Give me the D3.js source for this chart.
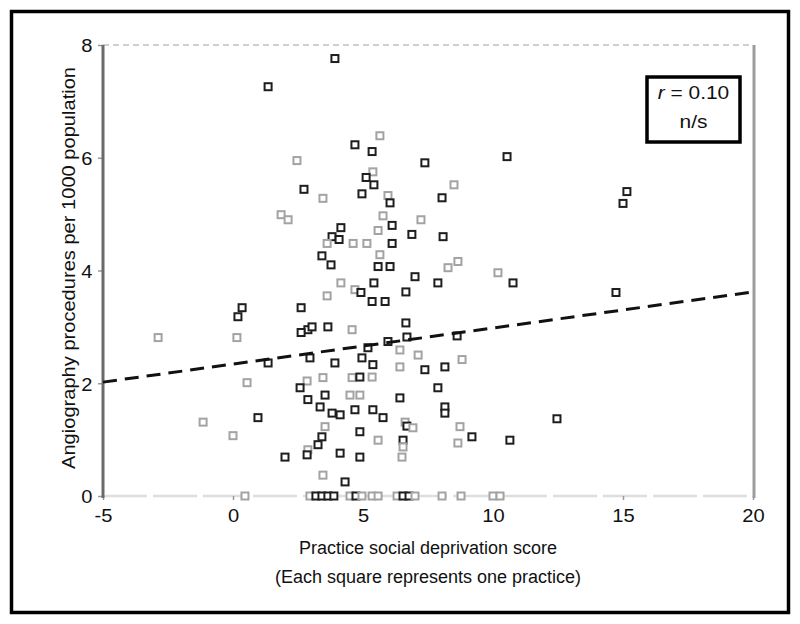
<!DOCTYPE html>
<html>
<head>
<meta charset="utf-8">
<script src="https://cdn.jsdelivr.net/npm/d3@7"></script>
<style>
body { margin: 0; background: #fff; }
text { font-family: "Liberation Sans", Arial, Helvetica, sans-serif; fill: #111; }
</style>
</head>
<body>
<svg id="chart" width="800" height="624"></svg>
<script>
// one entry per practice
var deprivationScore = [
	3.92, 1.35, 5.65, 4.69, 5.35, 2.46, 7.38, 10.54, 5.38, 5.12,
	5.42, 8.50, 2.73, 3.46, 4.96, 5.96, 6.04, 8.04, 15.15, 15.00,
	1.85, 2.12, 5.77, 6.12, 7.23, 4.15, 5.58, 6.88, 8.08, 3.81,
	4.08, 3.62, 4.62, 5.15, 6.12, 3.42, 3.77, 5.65, 5.58, 6.04,
	8.27, 8.65, 10.19, 10.77, 7.00, 4.15, 5.42, 7.88, 4.69, 4.92,
	6.65, 3.62, 5.35, 5.85, 2.62, 14.73, 0.35, 0.19, 6.65, 3.65,
	4.58, 2.88, 3.04, 2.62, 6.69, 8.62, -2.88, 0.15, 1.35, 2.96,
	3.92, 4.96, 5.19, 5.96, 6.42, 7.12, 8.81, 5.38, 5.35, 6.42,
	7.38, 8.15, 3.46, 4.58, 4.88, 2.85, 0.54, 2.58, 3.54, 4.50,
	4.88, 6.42, 7.88, 2.88, 3.35, 3.81, 4.12, 4.69, 5.38, 5.77,
	8.15, 8.15, 0.96, -1.15, 3.54, 4.88, 6.62, 6.69, 6.92, 8.73,
	3.42, 3.27, 2.88, 2.85, 2.00, 4.12, 4.88, 5.58, 6.54, 6.54,
	6.50, 8.65, 9.19, 10.65, 0.00, 12.46, 3.46, 4.31,
	0.46, 2.96, 3.19, 3.42, 3.65, 3.88, 4.50, 4.73, 4.96, 5.35,
	5.58, 6.31, 6.54, 6.77, 7.00, 8.04, 8.77, 10.00, 10.27
];
var angiographyRate = [
	7.76, 7.26, 6.39, 6.23, 6.11, 5.95, 5.91, 6.02, 5.75, 5.65,
	5.52, 5.52, 5.44, 5.28, 5.36, 5.33, 5.20, 5.29, 5.40, 5.19,
	4.99, 4.90, 4.97, 4.80, 4.90, 4.76, 4.71, 4.64, 4.60, 4.60,
	4.55, 4.48, 4.48, 4.48, 4.48, 4.26, 4.10, 4.28, 4.07, 4.07,
	4.05, 4.16, 3.96, 3.78, 3.89, 3.78, 3.78, 3.78, 3.66, 3.61,
	3.62, 3.55, 3.45, 3.45, 3.34, 3.61, 3.34, 3.18, 3.07, 3.00,
	2.95, 2.95, 3.00, 2.90, 2.82, 2.84, 2.81, 2.81, 2.36, 2.45,
	2.36, 2.45, 2.63, 2.74, 2.59, 2.50, 2.42, 2.33, 2.11, 2.29,
	2.24, 2.29, 2.10, 2.10, 2.11, 2.04, 2.01, 1.92, 1.79, 1.79,
	1.79, 1.74, 1.92, 1.71, 1.58, 1.47, 1.44, 1.53, 1.53, 1.39,
	1.58, 1.47, 1.39, 1.31, 1.23, 1.14, 1.31, 1.24, 1.21, 1.23,
	1.05, 0.91, 0.82, 0.73, 0.69, 0.76, 0.69, 0.99, 0.99, 0.87,
	0.69, 0.94, 1.05, 0.99, 1.07, 1.37, 0.37, 0.25,
	0, 0, 0, 0, 0, 0, 0, 0, 0, 0,
	0, 0, 0, 0, 0, 0, 0, 0, 0
];
// 1 = square printed faintly in the original
var faintPrint = [
	0, 0, 1, 0, 0, 1, 0, 0, 1, 0,
	0, 1, 0, 1, 0, 1, 0, 0, 0, 0,
	1, 1, 1, 0, 1, 0, 1, 0, 0, 0,
	0, 1, 1, 1, 0, 0, 0, 1, 0, 0,
	1, 1, 1, 0, 0, 1, 0, 0, 1, 0,
	0, 1, 0, 0, 0, 0, 0, 0, 0, 0,
	1, 0, 0, 0, 0, 0, 1, 1, 0, 0,
	0, 0, 0, 0, 1, 1, 1, 0, 1, 1,
	0, 0, 1, 1, 0, 1, 1, 0, 0, 1,
	1, 0, 0, 0, 0, 0, 0, 0, 0, 0,
	0, 0, 0, 1, 1, 0, 1, 0, 1, 1,
	0, 0, 1, 0, 0, 0, 0, 1, 0, 1,
	1, 1, 0, 0, 1, 0, 1, 0,
	1, 1, 0, 0, 0, 0, 1, 0, 1, 1,
	1, 1, 0, 0, 1, 1, 1, 1, 1
];
var fitScore = [-5, 20];
var fitRate = [2.02, 3.62];
var xTicks = [-5, 0, 5, 10, 15, 20];
var yTicks = [0, 2, 4, 6, 8];

var svg = d3.select("#chart");
var plotLeft = 103, plotRight = 753, plotTop = 45, plotBottom = 496;

var x = d3.scaleLinear().domain([-5, 20]).range([plotLeft, plotRight]);
var y = d3.scaleLinear().domain([0, 8]).range([plotBottom, plotTop]);

// outer frame
svg.append("rect")
	.attr("x", 11.5).attr("y", 11.5)
	.attr("width", 777).attr("height", 601)
	.attr("fill", "none").attr("stroke", "#000").attr("stroke-width", 3.5);

// plot frame
svg.append("line")
	.attr("x1", plotLeft).attr("x2", plotRight).attr("y1", plotTop).attr("y2", plotTop)
	.attr("stroke", "#cfcfcf").attr("stroke-width", 2).attr("stroke-dasharray", "6,4");
svg.append("line")
	.attr("x1", plotLeft).attr("x2", plotRight).attr("y1", plotBottom).attr("y2", plotBottom)
	.attr("stroke", "#dedede").attr("stroke-width", 2.5).attr("stroke-dasharray", "44,6");

var xAxis = svg.append("g")
	.attr("transform", "translate(0," + plotBottom + ")")
	.call(d3.axisBottom(x).tickValues(xTicks).tickSize(4).tickPadding(9).tickFormat(function(d){ return String(d); }));
var yAxis = svg.append("g")
	.attr("transform", "translate(" + plotLeft + ",0)")
	.call(d3.axisLeft(y).tickValues(yTicks).tickSize(5).tickPadding(5).tickFormat(function(d){ return String(d); }));

[xAxis, yAxis].forEach(function(a){
	a.select(".domain").remove();
	a.selectAll("line").attr("stroke", "#999").attr("stroke-width", 1.5);
	a.selectAll("text")
		.attr("font-size", 19)
		.attr("fill", "#111")
		.attr("font-family", "'Liberation Sans', Arial, sans-serif")
		.attr("transform", "scale(1.06,1)");
});
yAxis.selectAll("text").attr("dy", "0.36em");

svg.append("line")
	.attr("x1", plotLeft).attr("x2", plotLeft).attr("y1", plotTop).attr("y2", plotBottom + 2)
	.attr("stroke", "#6a6a6a").attr("stroke-width", 3);
svg.append("line")
	.attr("x1", plotRight + 1).attr("x2", plotRight + 1).attr("y1", plotTop).attr("y2", plotBottom + 2)
	.attr("stroke", "#9c9c9c").attr("stroke-width", 3);

// practices
var practices = deprivationScore.map(function(d, i){
	return { score: d, rate: angiographyRate[i], faint: faintPrint[i] };
});

svg.append("g")
	.selectAll("rect")
	.data(practices)
	.enter()
	.append("rect")
	.attr("x", function(d){ return x(d.score) - 3.5; })
	.attr("y", function(d){ return y(d.rate) - 3.5; })
	.attr("width", 7)
	.attr("height", 7)
	.attr("fill", "#fff")
	.attr("stroke", function(d){ return d.faint ? "#a3a3a3" : "#1e1e1e"; })
	.attr("stroke-width", 2);

// regression line
svg.append("path")
	.datum(fitScore.map(function(d, i){ return [d, fitRate[i]]; }))
	.attr("d", d3.line().x(function(d){ return x(d[0]); }).y(function(d){ return y(d[1]); }))
	.attr("fill", "none")
	.attr("stroke", "#111")
	.attr("stroke-width", 3)
	.attr("stroke-dasharray", "14,8");

// r box
svg.append("rect")
	.attr("x", 647).attr("y", 77)
	.attr("width", 93).attr("height", 65)
	.attr("fill", "#fff").attr("stroke", "#000").attr("stroke-width", 3.5);
var rText = svg.append("text")
	.attr("transform", "translate(693.5,99) scale(1.1,1)")
	.attr("text-anchor", "middle")
	.attr("font-size", 19);
rText.append("tspan").attr("font-style", "italic").text("r");
rText.append("tspan").text(" = 0.10");
svg.append("text")
	.attr("transform", "translate(693.5,128) scale(1.1,1)")
	.attr("text-anchor", "middle")
	.attr("font-size", 19)
	.text("n/s");

// titles
svg.append("text")
	.attr("x", (plotLeft + plotRight) / 2).attr("y", 554)
	.attr("text-anchor", "middle")
	.attr("font-size", 18)
	.text("Practice social deprivation score");
svg.append("text")
	.attr("x", (plotLeft + plotRight) / 2).attr("y", 583)
	.attr("text-anchor", "middle")
	.attr("font-size", 18)
	.text("(Each square represents one practice)");
svg.append("text")
	.attr("transform", "translate(75,268) rotate(-90)")
	.attr("text-anchor", "middle")
	.attr("font-size", 18)
	.attr("textLength", 402)
	.attr("lengthAdjust", "spacingAndGlyphs")
	.text("Angiography procedures per 1000 population");
</script>
</body>
</html>
